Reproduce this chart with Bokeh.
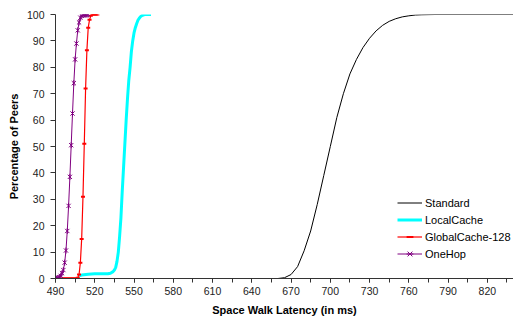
import math
from bokeh.plotting import figure
from bokeh.models import Range1d, FixedTicker, Legend, LegendItem
from bokeh.embed import file_html
from bokeh.resources import INLINE

# ---- data (latency in ms, percentage of peers) ----
std_x = [490, 660, 665, 670, 675, 680, 685, 690, 695, 700, 705, 710, 715, 720,
         725, 730, 735, 740, 745, 750, 755, 760, 765, 770, 780, 840]
std_y = [0, 0, 0.3, 1.5, 4.5, 10.5, 18, 28, 39, 50, 61, 70, 77.5, 83,
         87.5, 91, 93.8, 95.9, 97.4, 98.4, 99.1, 99.5, 99.8, 99.9, 100, 100]

lc_x = [508, 510, 515, 520, 525, 530, 532, 534, 535, 536, 537, 538, 539, 540,
        541, 542, 543, 544, 545, 546, 547, 548, 549, 550, 551, 552, 553, 554,
        555, 556, 558, 563]
lc_y = [1.0, 1.3, 1.6, 1.8, 1.8, 1.8, 2.0, 2.6, 3.2, 4.2, 6.5, 10, 16, 23,
        33, 42, 51, 60, 68, 75, 80, 86, 90, 93, 95, 96.5, 97.8, 98.6,
        99.2, 99.6, 100, 100]

gc_x = [495, 496, 497, 498, 499, 500, 501, 502, 503, 504, 505, 506, 507, 508,
        509, 510, 511, 512, 513, 514, 515, 516, 517, 518, 519, 520, 521, 522]
gc_y = [0, 0, 0, 0, 0, 0, 0, 0, 0, 0, 0, 0, 0.3, 1.5,
        6, 15, 31, 51, 72, 86.5, 95, 98, 99.5, 100, 100, 100, 100, 100]

oh_x = [490, 491, 492, 493, 494, 495, 496, 497, 498, 499, 500, 501, 502, 503,
        504, 505, 506, 507, 508, 509, 510, 511, 512, 513, 514, 515]
oh_y = [0, 0, 0.2, 0.5, 1, 2, 3.2, 6, 10.6, 18, 27.5, 38.5, 50.5, 62.5,
        74, 83, 89, 94, 97, 98.8, 99.5, 99.8, 100, 100, 100, 100]

x_ticks = list(range(490, 841, 30))
x_minor = list(range(490, 841, 15))
y_ticks = list(range(0, 101, 10))

FONT = "Liberation Sans"

p = figure(width=513, height=320, output_backend="svg", toolbar_location=None,
           x_range=Range1d(490, 840), y_range=Range1d(0, 100),
           min_border_left=55, min_border_right=0, min_border_top=14,
           min_border_bottom=42)
p.outline_line_color = None
p.grid.visible = False
p.background_fill_color = "white"
p.border_fill_color = "white"

r_std = p.line(std_x, std_y, line_color="black", line_width=1)
r_lc = p.line(lc_x, lc_y, line_color="#00FFFF", line_width=3)
r_gc = p.line(gc_x, gc_y, line_color="#FF0000", line_width=1.2)
r_gcm = p.scatter(gc_x, gc_y, marker="dash", size=4, line_color="#FF0000",
                  line_width=2)
r_oh = p.line(oh_x, oh_y, line_color="#800080", line_width=1)
r_ohm = p.scatter(oh_x, oh_y, marker="x", size=6, line_color="#800080",
                  line_width=1)
r_ohv = p.scatter(oh_x, oh_y, marker="dash", size=6, angle=math.pi / 2,
                  line_color="#800080", line_width=1)

xa = p.xaxis[0]
xa.ticker = FixedTicker(ticks=x_ticks, minor_ticks=x_minor)
xa.axis_label = "Space Walk Latency (in ms)"
xa.major_tick_out = 4
xa.major_tick_in = 0
xa.minor_tick_out = 4
xa.minor_tick_in = 0
xa.major_label_standoff = 4
xa.axis_label_standoff = 6

ya = p.yaxis[0]
ya.ticker = FixedTicker(ticks=y_ticks, minor_ticks=[])
ya.axis_label = "Percentage of Peers"
ya.major_tick_out = 5
ya.major_tick_in = 0
ya.major_label_standoff = 6
ya.axis_label_standoff = 4

for ax in (xa, ya):
    ax.axis_line_color = "#333333"
    ax.major_tick_line_color = "#333333"
    ax.minor_tick_line_color = "#333333"
    ax.major_label_text_font = FONT
    ax.major_label_text_font_size = "10.5px"
    ax.major_label_text_color = "#222222"
    ax.axis_label_text_font = FONT
    ax.axis_label_text_font_size = "11px"
    ax.axis_label_text_font_style = "bold"
    ax.axis_label_text_color = "black"

legend = Legend(items=[
    LegendItem(label="Standard", renderers=[r_std]),
    LegendItem(label="LocalCache", renderers=[r_lc]),
    LegendItem(label="GlobalCache-128", renderers=[r_gc, r_gcm]),
    LegendItem(label="OneHop", renderers=[r_oh, r_ohm, r_ohv]),
], location=(342, 16))
legend.border_line_color = None
legend.background_fill_alpha = 0
legend.padding = 0
legend.margin = 0
legend.spacing = 0
legend.glyph_width = 25
legend.glyph_height = 17
legend.label_standoff = 3
legend.label_text_font = FONT
legend.label_text_font_size = "11px"
legend.label_text_color = "black"
legend.label_height = 17
p.add_layout(legend)

open("out.html", "w").write(file_html(p, INLINE))
